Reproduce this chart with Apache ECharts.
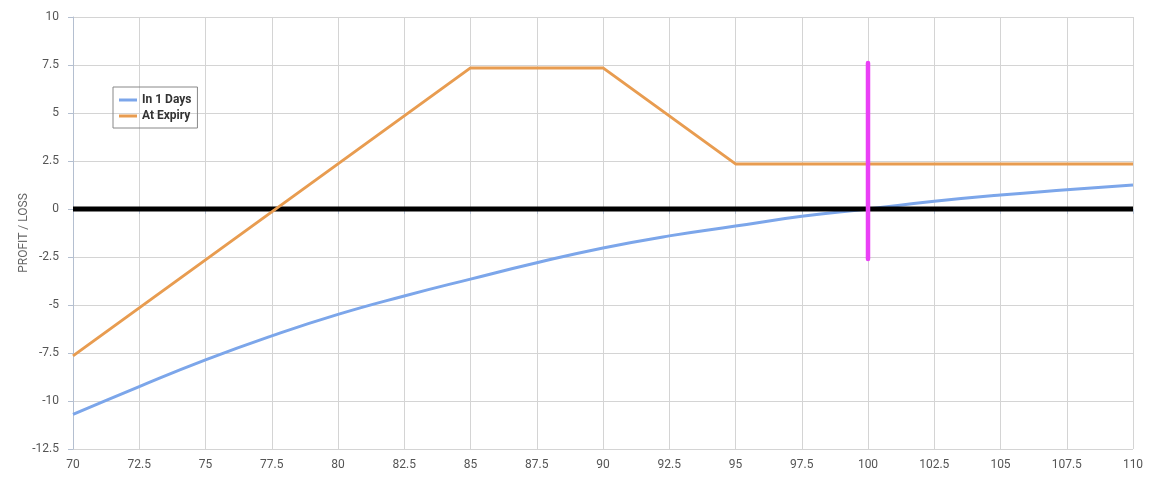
<!DOCTYPE html>
<html><head><meta charset="utf-8">
<script src="https://cdn.jsdelivr.net/npm/echarts@6/dist/echarts.min.js"></script>
<style>html,body{margin:0;padding:0;background:#fff}#c{width:1155px;height:479px}</style>
</head><body><div id="c"></div>
<script>
const prices = [70,72.5,75,77.5,80,82.5,85,87.5,90,92.5,95,97.5,100,102.5,105,107.5,110];
const in1Days = [-10.7,-9.25,-7.86,-6.61,-5.49,-4.53,-3.65,-2.8,-2.03,-1.4,-0.89,-0.38,0,0.4,0.73,1.0,1.25];
const expiryX = [70,85,90,95,110];
const expiryY = [-7.65,7.35,7.35,2.35,2.35];
const zeroX = [70,110];
const zeroY = [0,0];
const markerX = [100,100];
const markerY = [7.6,-2.6];
const seriesNames = ['In 1 Days','At Expiry'];
const yAxisName = 'PROFIT / LOSS';

const font = 'Roboto,sans-serif';
const zip = (a,b)=>a.map((v,i)=>[v,b[i]]);
const chart = echarts.init(document.getElementById('c'));
chart.setOption({
  animation:false,
  grid:{left:73,right:22,top:17,bottom:30},
  legend:{
    data:seriesNames, orient:'vertical', left:113, top:87,
    borderColor:'#888', borderWidth:1, padding:[7,6,6,6], itemGap:4,
    itemWidth:18, itemHeight:3, icon:'rect',
    textStyle:{fontFamily:font,fontSize:12,fontWeight:'bold',color:'#333'}
  },
  xAxis:{type:'value',min:70,max:110,interval:2.5,
    axisLine:{lineStyle:{color:'#b4bfd0'}},
    axisTick:{show:true,length:5,lineStyle:{color:'#b4bfd0'}},
    axisLabel:{fontFamily:font,fontSize:12,color:'#555',margin:10},
    splitLine:{lineStyle:{color:'#d4d4d4'}}},
  yAxis:{type:'value',min:-12.5,max:10,interval:2.5,
    name:yAxisName,nameLocation:'middle',nameGap:43,nameMoveOverlap:false,
    nameTextStyle:{fontFamily:font,fontSize:12,color:'#666'},
    axisLine:{show:true,lineStyle:{color:'#b4bfd0'}},
    axisTick:{show:true,length:5,lineStyle:{color:'#b4bfd0'}},
    axisLabel:{fontFamily:font,fontSize:12,color:'#555',margin:14},
    splitLine:{lineStyle:{color:'#d4d4d4'}}},
  series:[
    {name:seriesNames[0],type:'line',data:zip(prices,in1Days),smooth:true,showSymbol:false,
     lineStyle:{color:'#7ca6ea',width:3},itemStyle:{color:'#7ca6ea'},z:2},
    {name:'zero',type:'line',data:zip(zeroX,zeroY),showSymbol:false,
     lineStyle:{color:'#000',width:5},z:3},
    {name:seriesNames[1],type:'line',data:zip(expiryX,expiryY),showSymbol:false,
     lineStyle:{color:'#e89c50',width:3},itemStyle:{color:'#e89c50'},z:4},
    {name:'marker',type:'line',data:zip(markerX,markerY),showSymbol:false,
     lineStyle:{color:'#ea40f6',width:4.5,cap:'round'},z:5}
  ]
});
</script></body></html>
